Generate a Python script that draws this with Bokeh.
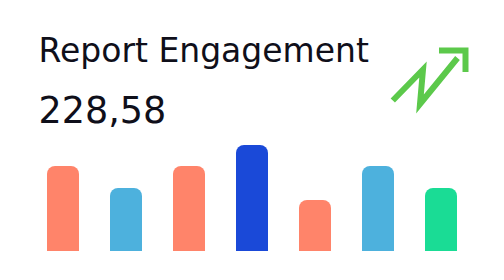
from bokeh.plotting import figure
from bokeh.models import Range1d, Label
from bokeh.embed import file_html
from bokeh.resources import INLINE

W, H = 504, 280

title_text = "Report Engagement"
value_text = "228,58"
bar_index = [0, 1, 2, 3, 4, 5, 6]
bar_values = [85, 63, 85, 106, 51, 85, 63]
bar_colors = ["#FF846A", "#4DB1DD", "#FF846A", "#1A49D8", "#FF846A", "#4DB1DD", "#1ADC95"]

# layout (pixels)
first_center_px = 62.5
step_px = 63.0
baseline_px = 250.5  # from top

x0 = -first_center_px / step_px
x1 = (W - first_center_px) / step_px
y0 = -(H - baseline_px)
y1 = baseline_px

p = figure(width=W, height=H, min_border=0, toolbar_location=None,
           output_backend="svg", x_range=Range1d(x0, x1), y_range=Range1d(y0, y1),
           outline_line_color=None, background_fill_color="white",
           border_fill_color="white")
p.axis.visible = False
p.grid.visible = False

p.vbar(x=bar_index, top=bar_values, bottom=0, width=32 / step_px,
       color=bar_colors, line_color=None, border_radius=(8, 8, 0, 0))

def px_to_data(px, py):
    return ((px - first_center_px) / step_px, baseline_px - py)

arrow_body_px = [(392.3, 100.0), (422.5, 69.0), (419.5, 103.5), (457.0, 57.5)]
arrow_head_px = [(438.5, 50.0), (465.0, 50.0), (465.0, 71.5)]
for pts in (arrow_body_px, arrow_head_px):
    d = [px_to_data(a, b) for a, b in pts]
    p.line([q[0] for q in d], [q[1] for q in d], line_color="#5CC94B",
           line_width=6, line_join="miter", line_cap="butt")

p.add_layout(Label(x=38, y=H - 50.3, x_units="screen", y_units="screen",
                   text=title_text, text_font="DejaVu Sans", text_font_size="33px",
                   text_color="#0F0F1A", text_baseline="alphabetic"))
p.add_layout(Label(x=38, y=H - 109.2, x_units="screen", y_units="screen",
                   text=value_text, text_font="DejaVu Sans", text_font_size="36.5px",
                   text_color="#0F0F1A", text_baseline="alphabetic"))

open("out.html", "w").write(file_html(p, INLINE))
